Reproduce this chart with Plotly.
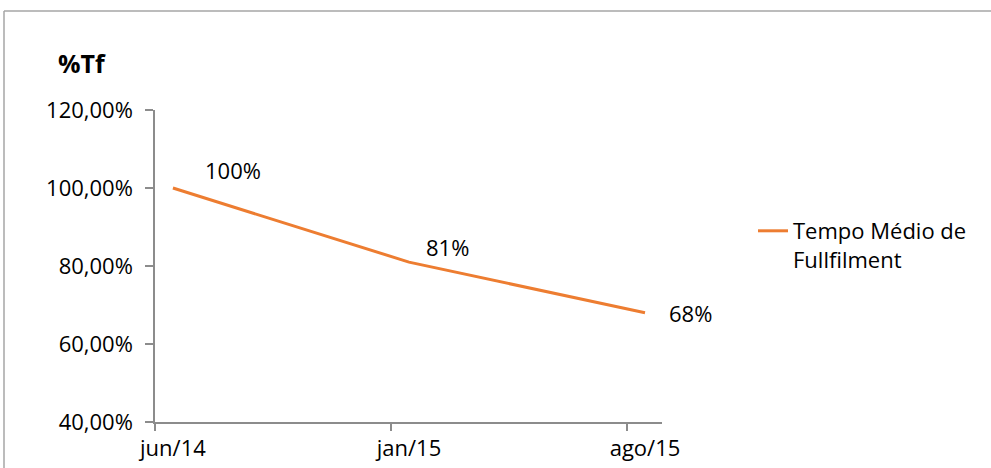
import plotly.graph_objects as go

categories = ["jun/14", "jan/15", "ago/15"]
values = [1.00, 0.81, 0.68]
labels = ["100%", "81%", "68%"]
series_name = "Tempo Médio de<br>Fullfilment"
y_ticks = [0.4, 0.6, 0.8, 1.0, 1.2]
y_tick_text = ["40,00%", "60,00%", "80,00%", "100,00%", "120,00%"]

W, H = 991, 468
L, R, T, B = 155, 991 - 662, 110, 468 - 422
pw, ph = W - L - R, H - T - B

def px_x(p):
    return (p - L) / pw

def px_y(p):
    return (H - B - p) / ph

xs = list(range(len(categories)))
FONT = "Open Sans"
FS = 22
orange = "#ED7D31"
grey = "#8C8C8C"

fig = go.Figure()
fig.add_trace(go.Scatter(
    x=xs, y=values, mode="lines", name=series_name,
    line=dict(color=orange, width=3), showlegend=True,
))

# data labels
offsets = [(60, 18), (39, 15), (45, 0)]
for x, v, t, (dx, dy) in zip(xs, values, labels, offsets):
    fig.add_annotation(x=x, y=v, text=t, showarrow=False, xshift=dx, yshift=dy,
                       font=dict(family=FONT, size=FS, color="#000"))

xr = [-0.076, 2.072]
fig.update_layout(
    width=W, height=H, autosize=False,
    margin=dict(l=L, r=R, t=T, b=B, pad=0, autoexpand=False),
    paper_bgcolor="white", plot_bgcolor="white",
    font=dict(family=FONT, size=FS, color="#000"),
    xaxis=dict(range=xr, tickvals=xs, ticktext=categories, ticks="", showgrid=False,
               zeroline=False, showline=True, linecolor=grey, linewidth=1.5,
               ticklabelstandoff=6, automargin=False,
               tickfont=dict(family=FONT, size=FS, color="#000")),
    xaxis2=dict(range=xr, overlaying="x", tickvals=[xr[0], 0.924, 1.924], ticktext=["", "", ""],
                ticks="outside", ticklen=8, tickcolor=grey, tickwidth=1.5, showgrid=False,
                zeroline=False, showline=False, anchor="y", automargin=False),
    yaxis=dict(range=[0.4, 1.2], tickvals=y_ticks, ticktext=y_tick_text, ticks="outside",
               ticklen=8, tickcolor=grey, tickwidth=1.5, showgrid=False, zeroline=False,
               showline=True, linecolor=grey, linewidth=1.5, ticklabelstandoff=8,
               automargin=False,
               tickfont=dict(family=FONT, size=FS, color="#000")),
    legend=dict(x=px_x(753), y=px_y(210), xanchor="left", yanchor="top",
                font=dict(family=FONT, size=FS, color="#000"), bgcolor="rgba(0,0,0,0)",
                valign="top", tracegroupgap=0),
    showlegend=True,
)
# dummy trace to activate xaxis2
fig.add_trace(go.Scatter(x=[xr[0]], y=[None], xaxis="x2", showlegend=False, hoverinfo="skip"))

fig.add_annotation(xref="paper", yref="paper", x=px_x(82), y=px_y(63), text="<b>%Tf</b>",
                   xanchor="center", yanchor="middle",
                   showarrow=False, font=dict(family=FONT, size=25, color="#000"))

# chart frame (top and left edges)
fig.add_shape(type="line", xref="paper", yref="paper", x0=px_x(4), x1=px_x(992),
              y0=px_y(11), y1=px_y(11), line=dict(color="#A6A6A6", width=1.5))
fig.add_shape(type="line", xref="paper", yref="paper", x0=px_x(4), x1=px_x(4),
              y0=px_y(11), y1=px_y(470), line=dict(color="#A6A6A6", width=1.5))

fig.write_html("out.html")
